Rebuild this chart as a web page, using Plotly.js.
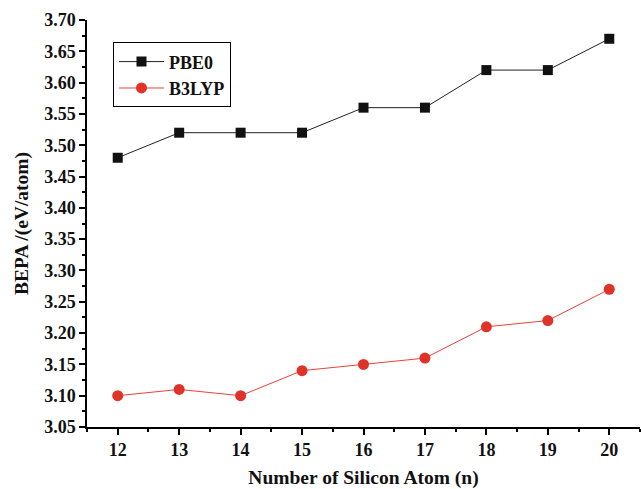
<!DOCTYPE html>
<html><head><meta charset="utf-8">
<script src="https://cdn.plot.ly/plotly-3.0.1.min.js"></script>
<style>body{margin:0;background:#fff}#c{width:641px;height:489px}</style>
</head><body><div id="c"></div>
<script>
const nAtoms = [12, 13, 14, 15, 16, 17, 18, 19, 20];
const pbe0 = [3.48, 3.52, 3.52, 3.52, 3.56, 3.56, 3.62, 3.62, 3.67];
const b3lyp = [3.10, 3.11, 3.10, 3.14, 3.15, 3.16, 3.21, 3.22, 3.27];
const yTicks = [3.05,3.10,3.15,3.20,3.25,3.30,3.35,3.40,3.45,3.50,3.55,3.60,3.65,3.70];

const F = "Liberation Serif";
const traces = [
  {x: nAtoms, y: pbe0, name: "PBE0", mode: "lines+markers", type: "scatter",
   line: {color: "#222", width: 1}, marker: {symbol: "square", size: 10, color: "#111"}},
  {x: nAtoms, y: b3lyp, name: "B3LYP", mode: "lines+markers", type: "scatter",
   line: {color: "#e8433a", width: 1}, marker: {symbol: "circle", size: 11, color: "#e03228"}}
];
function axis(extra) {
  return Object.assign({
    showline: true, linecolor: "#000", linewidth: 1.5, mirror: false, showgrid: false, zeroline: false,
    ticks: "outside", ticklen: 6, tickwidth: 1.5, tickcolor: "#000",
    tickfont: {family: F, size: 18, color: "#111", weight: "bold"}
  }, extra);
}
const layout = {
  width: 641, height: 489,
  margin: {l: 87, r: 1, t: 20, b: 62},
  paper_bgcolor: "#fff", plot_bgcolor: "#fff",
  showlegend: true,
  legend: {x: 0.047, y: 0.945, xanchor: "left", yanchor: "top",
    bordercolor: "#000", borderwidth: 1, bgcolor: "#fff",
    font: {family: F, size: 18, color: "#111", weight: "bold"},
    tracegroupgap: 0, itemwidth: 45},
  xaxis: axis({
    range: [11.5, 20.5], tickvals: nAtoms, ticktext: nAtoms.map(String),
    minor: {ticks: "outside", ticklen: 3, tickwidth: 1.5, tickcolor: "#000", dtick: 0.5, tick0: 11.5},
    title: {text: "Number of Silicon Atom (n)", font: {family: F, size: 19.5, color: "#111", weight: "bold"}, standoff: 15}
  }),
  yaxis: axis({
    range: [3.05, 3.70], tickvals: yTicks, ticktext: yTicks.map(v => v.toFixed(2)),
    minor: {ticks: "outside", ticklen: 3, tickwidth: 1.5, tickcolor: "#000", dtick: 0.025, tick0: 3.05},
    title: {text: "BEPA /(eV/atom)", font: {family: F, size: 19.5, color: "#111", weight: "bold"}, standoff: 10}
  })
};
Plotly.newPlot("c", traces, layout, {displayModeBar: false});
</script></body></html>
